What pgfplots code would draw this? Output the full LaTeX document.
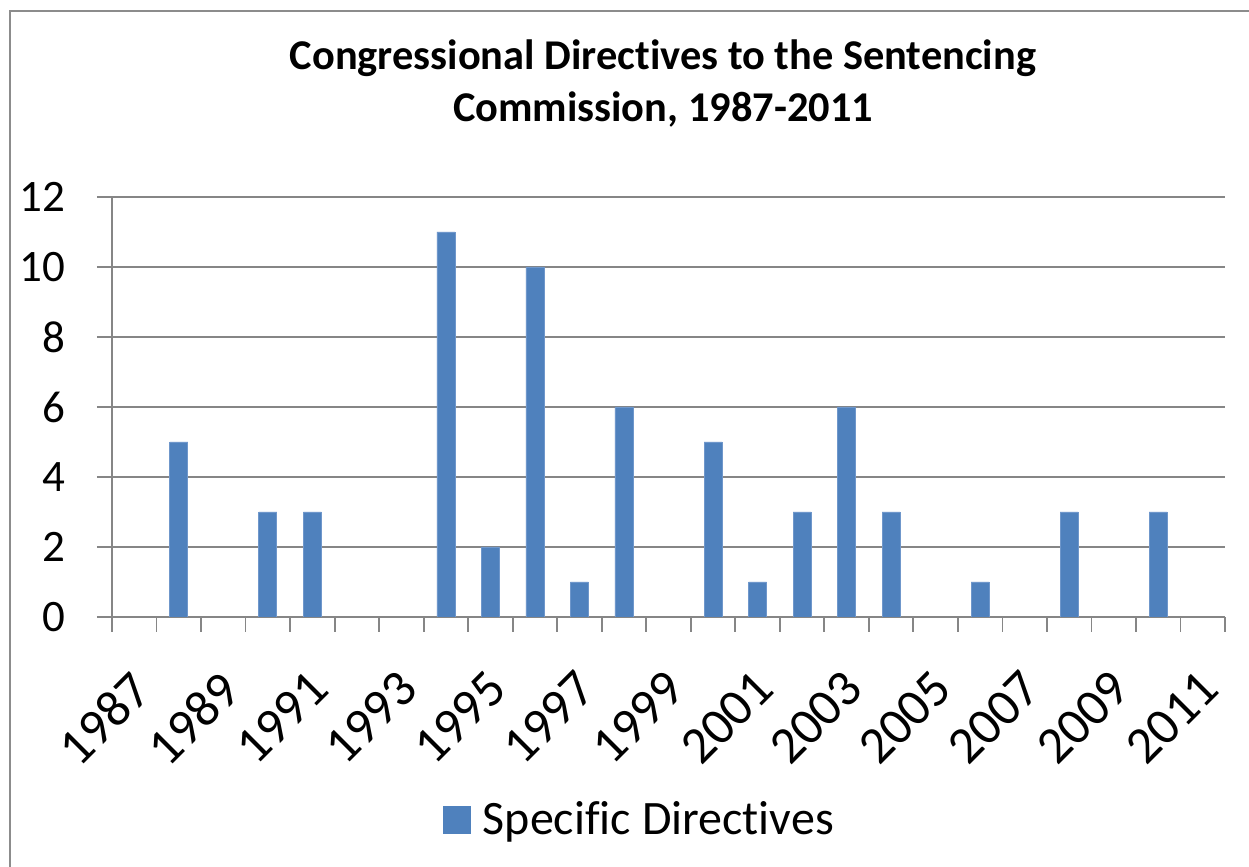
\documentclass[border=0pt]{standalone}
\usepackage{fontspec}
\setmainfont{Carlito}[Ligatures=NoCommon]
\usepackage{pgfplots}
\pgfplotsset{compat=1.18}

\definecolor{barblue}{HTML}{4F81BD}
\definecolor{baredge}{HTML}{6F97CB}
\definecolor{axisgray}{HTML}{868686}
\definecolor{framegray}{HTML}{8C8C8C}

\begin{document}
\begin{tikzpicture}
  \useasboundingbox (0pt,0pt) rectangle (624.5pt,433.5pt);
  % chart area border
  \draw[framegray, line width=1pt] (5pt,-20pt) -- (5pt,428pt) -- (650pt,428pt);

  \node[font=\fontsize{21.2}{26}\selectfont\bfseries, align=center]
    at (331.5pt,391.5pt) {Congressional Directives to the Sentencing\\Commission, 1987-2011};

  \begin{axis}[
    at={(56pt,125pt)}, anchor=south west,
    scale only axis,
    width=556.5pt, height=210pt,
    xmin=-0.5, xmax=24.5,
    ymin=0, ymax=12,
    axis lines*=left,
    axis line style={draw=axisgray, line width=0.9pt},
    ytick={0,2,...,12},
    ymajorgrids,
    grid style={draw=axisgray, line width=0.9pt},
    xtick={0,2,...,24},
    xticklabels={1987,1989,1991,1993,1995,1997,1999,2001,2003,2005,2007,2009,2011},
    minor xtick={-0.5,0.5,...,24.5},
    tick align=outside,
    major x tick style={draw=none},
    minor x tick style={draw=axisgray, line width=0.9pt},
    major y tick style={draw=axisgray, line width=0.9pt},
    major tick length=7.5pt,
    minor tick length=7.5pt,
    /pgf/number format/assume math mode=true,
    yticklabel style={font=\fontsize{22.5}{26}\selectfont, xshift=-12.5pt},
    % shifts act in the rotated frame of the label
    xticklabel style={font=\fontsize{26}{30}\selectfont, rotate=45,
      anchor=north east, inner sep=1pt, xshift=-13.5pt, yshift=-9.8pt},
    ybar, bar width=9pt,
    legend style={at={(0.4748,-0.483)}, anchor=center, draw=none,
      font=\fontsize{24}{26}\selectfont, inner sep=0pt},
    legend image code/.code={\fill[barblue] (0pt,-6.75pt) rectangle (13.5pt,6.75pt);
      \path (17.5pt,0pt);},
    legend cell align=left,
  ]
    \addplot[fill=barblue, draw=baredge, line width=0.4pt] coordinates {
      (1,5) (3,3) (4,3) (7,11) (8,2) (9,10) (10,1) (11,6)
      (13,5) (14,1) (15,3) (16,6) (17,3) (19,1) (21,3) (23,3)
    };
    \addlegendentry{Specific Directives}
  \end{axis}
\end{tikzpicture}
\end{document}
